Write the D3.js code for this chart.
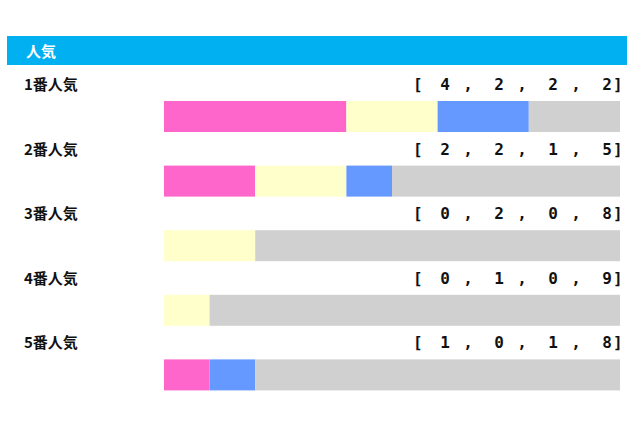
<!DOCTYPE html>
<html><head><meta charset="utf-8">
<script src="https://cdn.jsdelivr.net/npm/d3@7"></script>
<style>body{margin:0;background:#fff}</style></head>
<body><script>
var labels = ["1番人気", "2番人気", "3番人気", "4番人気", "5番人気"];
var keys = ["1着", "2着", "3着", "着外"];
var counts = [[4, 2, 2, 2], [2, 2, 1, 5], [0, 2, 0, 8], [0, 1, 0, 9], [1, 0, 1, 8]];
var colors = ["#ff66cc", "#ffffcc", "#6699ff", "#d0d0d0"];

var width = 640, height = 426;
var svg = d3.select("body").append("svg").attr("width", width).attr("height", height);
var font = "'Noto Sans CJK JP', sans-serif";

svg.append("rect").attr("x", 7).attr("y", 36).attr("width", 620).attr("height", 29).attr("fill", "#00b0f0");
svg.append("text").attr("x", 26).attr("y", 57).text("人気")
  .attr("fill", "#fff").attr("font-family", font).attr("font-weight", "bold").attr("font-size", 15);

var x = d3.scaleLinear().domain([0, 10]).range([164, 620]);
var y = d3.scaleBand().domain(labels).range([70, 393]);

labels.forEach(function (lab, i) {
  var top = y(lab);
  var g = svg.append("g");
  g.append("text").attr("x", 24).attr("y", top + 20).text(lab)
    .attr("font-family", font).attr("font-weight", "bold").attr("font-size", 15).attr("fill", "#111");
  var stack = d3.cumsum(counts[i]);
  g.selectAll("rect").data(counts[i]).enter().append("rect")
    .attr("x", function (d, j) { return x(stack[j] - d); })
    .attr("width", function (d) { return x(d) - x(0); })
    .attr("y", top + 31).attr("height", 31)
    .attr("fill", function (d, j) { return colors[j]; });
  var t = g.append("g").attr("font-family", "'DejaVu Sans Mono', monospace").attr("font-weight", "bold")
    .attr("font-size", 16).attr("fill", "#111");
  t.append("text").attr("x", 413).attr("y", top + 20).text("[");
  t.append("text").attr("x", 613).attr("y", top + 20).text("]");
  counts[i].forEach(function (v, j) {
    t.append("text").attr("x", 445 + 54 * j).attr("y", top + 20).attr("text-anchor", "middle").text(v);
    if (j < 3) t.append("text").attr("x", 468 + 54 * j).attr("y", top + 20).attr("text-anchor", "middle").text(",");
  });
});
</script></body></html>
